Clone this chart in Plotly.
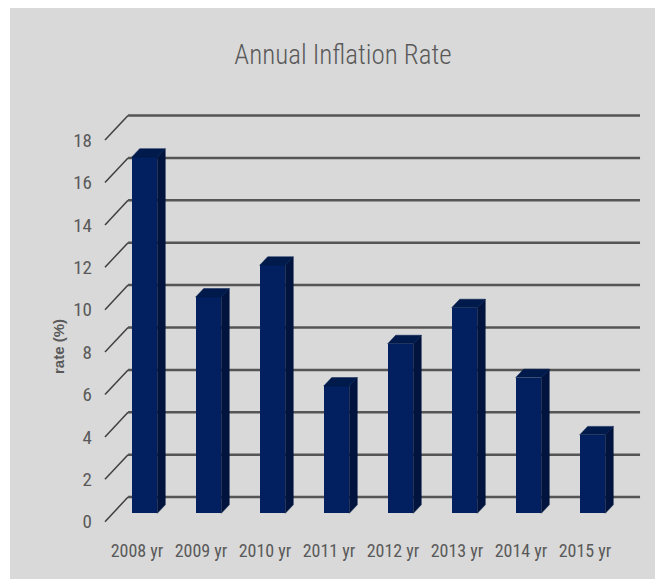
import plotly.graph_objects as go

# ---------------- data ----------------
YEARS = ["2008 yr", "2009 yr", "2010 yr", "2011 yr", "2012 yr", "2013 yr", "2014 yr", "2015 yr"]
RATES = [16.8, 10.2, 11.7, 6.0, 8.0, 9.7, 6.4, 3.7]
Y_TICKS = [0, 2, 4, 6, 8, 10, 12, 14, 16, 18]
Y_TICK_LABELS = [str(v) for v in Y_TICKS]

# ---------------- pseudo-3D geometry (axis units) ----------------
WALL_DX, WALL_DY = 0.36, 1.16      # depth of floor: front edge -> back wall
BAR_DX0, BAR_DY0 = 0.117, 0.396    # bar front plane offset from front edge
BAR_W = 0.40
BAR_DX, BAR_DY = 0.125, 0.40       # bar depth
FLOOR_L, FLOOR_R = -0.5, 7.5

FRONT = "#02205f"
SIDE = "#00143d"
TOP = "#001a4c"
GRID = "#555555"
TEXT = "#595959"
FONT = "Roboto Condensed, DejaVu Sans Condensed, Roboto, sans-serif"

xs = list(range(len(YEARS)))

fig = go.Figure()

# front faces
fig.add_trace(go.Bar(
    x=xs, y=RATES, base=BAR_DY0, width=BAR_W, offset=BAR_DX0 - BAR_W / 2,
    marker=dict(color=FRONT, line=dict(width=0)), hoverinfo="skip", showlegend=False,
))

# side and top faces computed from the data
side_x, side_y, top_x, top_y = [], [], [], []
for x, v in zip(xs, RATES):
    xl = x + BAR_DX0 - BAR_W / 2
    xr = x + BAR_DX0 + BAR_W / 2
    b = BAR_DY0
    t = BAR_DY0 + v
    side_x += [xr, xr + BAR_DX, xr + BAR_DX, xr, xr, None]
    side_y += [b, b + BAR_DY, t + BAR_DY, t, b, None]
    top_x += [xl, xr, xr + BAR_DX, xl + BAR_DX, xl, None]
    top_y += [t, t, t + BAR_DY, t + BAR_DY, t, None]

fig.add_trace(go.Scatter(x=side_x, y=side_y, mode="lines", fill="toself", fillcolor=SIDE,
                         line=dict(width=0.5, color=SIDE), hoverinfo="skip", showlegend=False))
fig.add_trace(go.Scatter(x=top_x, y=top_y, mode="lines", fill="toself", fillcolor=TOP,
                         line=dict(width=0.5, color=TOP), hoverinfo="skip", showlegend=False))

# figure is offset by the page's 8px body margin
W, H = 655, 571
L, T = 92, 97
PW, PH = 545, 420
R, B = W - L - PW, H - T - PH

shapes = [dict(type="rect", xref="paper", yref="paper",
               x0=(2 - L) / PW, x1=(W - L) / PW,
               y0=(T + PH - H) / PH, y1=(T + PH - 0) / PH,
               fillcolor="#d9d9d9", line=dict(width=0), layer="below")]
for v in Y_TICKS:
    shapes.append(dict(type="line", xref="x", yref="y",
                       x0=FLOOR_L + WALL_DX, x1=FLOOR_R + WALL_DX,
                       y0=v + WALL_DY, y1=v + WALL_DY,
                       line=dict(color=GRID, width=2.5), layer="below"))
    shapes.append(dict(type="line", xref="x", yref="y",
                       x0=FLOOR_L, x1=FLOOR_L + WALL_DX,
                       y0=v, y1=v + WALL_DY,
                       line=dict(color="#3f3f3f", width=1.5), layer="below"))

fig.update_layout(
    width=W, height=H,
    margin=dict(l=L, r=R, t=T, b=B, pad=0),
    paper_bgcolor="white", plot_bgcolor="rgba(0,0,0,0)",
    shapes=shapes,
    title=dict(text="Annual Inflation Rate", x=335 / W, xanchor="center",
               y=1 - 47 / H, yanchor="middle",
               font=dict(family=FONT, size=27, color=TEXT, weight=300)),
    xaxis=dict(range=[-0.578, 7.9375], tickvals=xs, ticktext=YEARS,
               showgrid=False, zeroline=False, showline=False, ticks="",
               ticklabelstandoff=13,
               tickfont=dict(family=FONT, size=18, color=TEXT), fixedrange=True),
    yaxis=dict(range=[-0.156, 19.656], tickvals=Y_TICKS, ticktext=Y_TICK_LABELS,
               showgrid=False, zeroline=False, showline=False, ticks="",
               ticklabelstandoff=7,
               tickfont=dict(family=FONT, size=19, color=TEXT), fixedrange=True),
    annotations=[dict(text="<b>rate (%)</b>", xref="paper", yref="paper",
                      x=(58 - 100) / PW, y=(525 - 347) / PH, textangle=-90,
                      showarrow=False, xanchor="center", yanchor="middle",
                      font=dict(family="Liberation Sans, Arial, sans-serif", size=15, color=TEXT))],
    bargap=0,
)

fig.write_html("out.html")
